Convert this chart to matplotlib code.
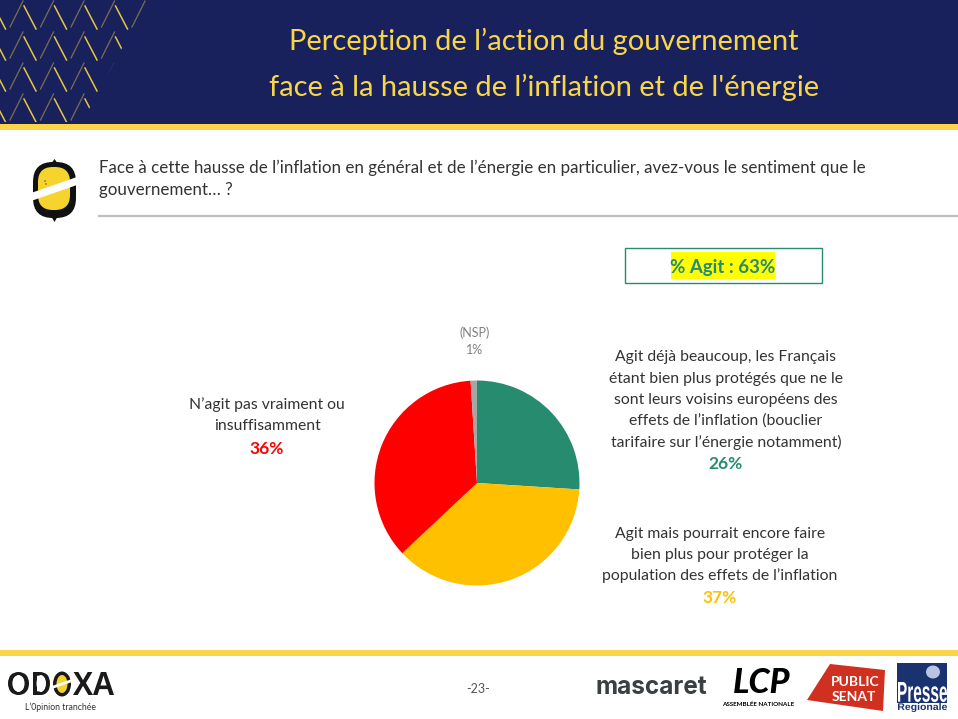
import numpy as np
from matplotlib import pyplot as plt
from matplotlib.patches import Rectangle, Ellipse, Polygon, FancyBboxPatch, PathPatch
from matplotlib.textpath import TextPath
from matplotlib.font_manager import FontProperties
from matplotlib.transforms import Affine2D

plt.rcParams['font.family'] = ['Lato', 'DejaVu Sans']

# chart values
labels = ["Agit déjà beaucoup", "Agit mais pourrait", "N'agit pas", "NSP"]
values = [26, 37, 36, 1]
colors = ['#278B70', '#FFC000', '#FF0000', '#A6A6A6']

NAVY = '#18215C'
YEL = '#F9D648'
TXT = '#333333'

W, H = 958, 719
fig = plt.figure(figsize=(W/100, H/100), dpi=100)
bg = fig.add_axes([0, 0, 1, 1])
bg.set_xlim(0, W)
bg.set_ylim(H, 0)
bg.axis('off')

#text stretched into a pixel box, for the squeezed logo lettering
def boxed_text(s, x0, y0, x1, y1, color):
    tp = TextPath((0, 0), s, size=10, prop=FontProperties(family='Liberation Sans', weight='bold'))
    e = tp.get_extents()
    tr = Affine2D().translate(-e.x0, -e.y0).scale((x1-x0)/e.width, -(y1-y0)/e.height).translate(x0, y1)
    bg.add_patch(PathPatch(tp, transform=tr + bg.transData, fc=color, ec='none'))

# header
bg.add_patch(Rectangle((0, 0), W, 124, fc=NAVY, ec='none'))
bg.add_patch(Rectangle((0, 124), W, 6, fc=YEL, ec='none'))
bg.add_patch(Rectangle((0, 650), W, 6, fc=YEL, ec='none'))

# chevrons in the header corner
clip = Polygon([(0, 0), (148, 0), (82, 122), (0, 122)], transform=bg.transData, fc='none', ec='none')
bg.add_patch(clip)
for i in range(-1, 6):
    xt = i*30.5 + 23
    for j in range(-1, 5):
        y0 = j*31 + 2
        l1, = bg.plot([xt-13, xt], [y0+25, y0-1], color='#D9BC45', lw=0.9, alpha=0.5)
        l2, = bg.plot([xt+1, xt+13], [y0+4, y0+27], color='#F0CF45', lw=1.1, alpha=0.95)
        l1.set_clip_path(clip)
        l2.set_clip_path(clip)

bg.text(544, 41, "Perception de l’action du gouvernement", color=YEL, fontsize=20.9,
        ha='center', va='center')
bg.text(544, 87, "face à la hausse de l’inflation et de l'énergie", color=YEL, fontsize=20.9,
        ha='center', va='center')

# question
bg.text(99, 168, "Face à cette hausse de l’inflation en général et de l’énergie en particulier, avez-vous le sentiment que le",
        color=TXT, fontsize=12.27, ha='left', va='center')
bg.text(99, 190, "gouvernement… ?", color=TXT, fontsize=12.27, ha='left', va='center')
bg.plot([99, 958], [216, 216], color='#BFBFBF', lw=1.6)

# odoxa icon
bg.add_patch(Polygon([(51, 164), (54.5, 159), (58, 164)], fc='#111111', ec='none'))
bg.add_patch(Polygon([(51, 216), (54.5, 222), (58, 216)], fc='#111111', ec='none'))
bg.add_patch(FancyBboxPatch((33, 162), 43, 56, boxstyle="round,pad=0,rounding_size=20", fc='#111111', ec='none'))
bg.add_patch(FancyBboxPatch((38, 167), 32, 43, boxstyle="round,pad=0,rounding_size=15", fc='#F6D32D', ec='none'))
bg.add_patch(Polygon([(31, 193), (77, 177), (77, 185), (31, 201)], fc='white', ec='none'))
bg.add_patch(Ellipse((45, 181), 1.5, 1.5, fc='#555555', ec='none'))
bg.add_patch(Ellipse((46, 184), 1.5, 1.5, fc='#555555', ec='none'))

# % Agit box
bg.add_patch(Rectangle((625, 248), 197, 35, fc='white', ec='#278B70', lw=1))
bg.add_patch(Rectangle((671, 252), 104, 27, fc='#FFFF00', ec='none'))
bg.text(723, 267, "% Agit : 63%", color='#278B70', fontsize=13.4, fontweight='bold', ha='center', va='center')

# pie
cx, cy, r = 477, 483, 102.5
pie_ax = fig.add_axes([(cx-r)/W, 1-(cy+r)/H, 2*r/W, 2*r/H])
pie_ax.pie(values, colors=colors, startangle=90, counterclock=False, radius=1.0)
pie_ax.set_xlim(-1, 1)
pie_ax.set_ylim(-1, 1)

# labels
bg.text(475, 333, "(NSP)", color='#7F7F7F', fontsize=9, ha='center', va='center')
bg.text(475, 350, "1%", color='#7F7F7F', fontsize=9, ha='center', va='center')

for y, s in zip([405, 426], ["N’agit pas vraiment ou", "insuffisamment"]):
    bg.text(267, y, s, color=TXT, fontsize=11.35, ha='center', va='center')
bg.text(267, 449, "36%", color='#FF0000', fontsize=12.5, fontweight='bold', ha='center', va='center')

lines = ["Agit déjà beaucoup, les Français", "étant bien plus protégés que ne le",
         "sont leurs voisins européens des", "effets de l’inflation (bouclier",
         "tarifaire sur l’énergie notamment)"]
for y, s in zip([357, 379, 400, 421, 442], lines):
    bg.text(726, y, s, color=TXT, fontsize=11.35, ha='center', va='center')
bg.text(726, 464, "26%", color='#278B70', fontsize=12.5, fontweight='bold', ha='center', va='center')

lines = ["Agit mais pourrait encore faire", "bien plus pour protéger la",
         "population des effets de l’inflation"]
for y, s in zip([534, 555, 576], lines):
    bg.text(720, y, s, color=TXT, fontsize=11.35, ha='center', va='center')
bg.text(720, 598, "37%", color='#FFC000', fontsize=12.5, fontweight='bold', ha='center', va='center')

# footer
bg.text(478, 689, "-23-", color='#555555', fontsize=9, ha='center', va='center')

boxed_text("O", 8, 672, 29, 695, '#1A1A1A')
boxed_text("D", 33, 672, 50, 695, '#1A1A1A')
boxed_text("X", 73, 672, 93, 695, '#1A1A1A')
boxed_text("A", 93, 672, 114, 695, '#1A1A1A')
bg.add_patch(Ellipse((62, 684), 18, 25, fc='#1A1A1A', ec='none'))
bg.add_patch(Ellipse((62, 684), 11, 18, fc='#F6D32D', ec='none'))
bg.add_patch(Polygon([(52, 686), (72, 679), (72, 682), (52, 689)], fc='white', ec='none'))
bg.add_patch(Ellipse((18.5, 683.5), 11, 17, fc='white', ec='none'))
bg.add_patch(Ellipse((41, 683.5), 9, 17, fc='white', ec='none'))
bg.text(61, 707, "L’0pinion tranchée", color='#333333', fontsize=6.2, ha='center', va='center')

bg.text(651, 687, "mascaret", color='#3A3F42', fontsize=17.5, fontweight='bold', ha='center', va='center', fontfamily='Inter')

bg.text(762, 683, "LCP", color='black', fontsize=24.5, fontweight='black', fontstyle='italic', ha='center', va='center')
bg.text(758, 704, "ASSEMBLÉE NATIONALE", color='black', fontsize=4.5, fontweight='bold', ha='center', va='center')

bg.add_patch(Polygon([(807, 700), (830, 664), (885, 670), (883, 711)], fc='#D03020', ec='none'))
bg.text(855, 682, "PUBLIC", color='white', fontsize=10, fontweight='bold', ha='center', va='center')
bg.text(854, 697, "SENAT", color='white', fontsize=10, fontweight='bold', ha='center', va='center')

bg.add_patch(Rectangle((897, 663), 50, 40, fc='#1A3370', ec='none'))
bg.add_patch(Ellipse((933, 672), 14, 13, fc='#B8C4E0', ec='none'))
boxed_text("Presse", 898, 682, 947, 702, 'white')
boxed_text("Regionale", 898, 703, 947, 712, '#1A3370')

fig.savefig('out.png', dpi=100)
